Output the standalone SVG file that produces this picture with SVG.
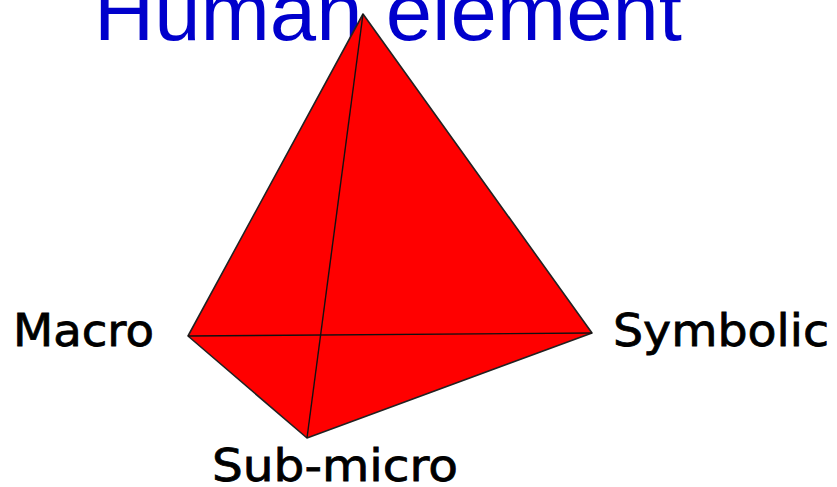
<svg xmlns="http://www.w3.org/2000/svg" width="837" height="487" viewBox="0 0 837 487">
  <style>
    .title { font-family: "Liberation Sans", Arial, sans-serif; font-size: 82px; fill: #0000CC; }
    .label { font-family: "DejaVu Sans", Verdana, sans-serif; font-size: 45px; fill: #000000; stroke: #000000; stroke-width: 0.8; }
    .face { fill: #FF0000; stroke: #222222; stroke-width: 1.6; stroke-linejoin: round; }
    .edge { stroke: #111111; stroke-width: 1.4; fill: none; }
  </style>
  <rect width="837" height="487" fill="#FFFFFF"/>
  <g id="title">
    <text class="title" x="94" y="40" textLength="588" lengthAdjust="spacingAndGlyphs">Human element</text>
  </g>
  <g id="tetrahedron">
    <polygon class="face" points="363,14 188,336 307,438 592,333"/>
    <g id="edges">
      <line class="edge" x1="363" y1="14" x2="307" y2="438"/>
      <line class="edge" x1="188" y1="336" x2="592" y2="333"/>
    </g>
  </g>
  <g id="macro">
    <text class="label" x="13" y="346" textLength="141" lengthAdjust="spacingAndGlyphs">Macro</text>
  </g>
  <g id="symbolic">
    <text class="label" x="613" y="346" textLength="216" lengthAdjust="spacingAndGlyphs">Symbolic</text>
  </g>
  <g id="submicro">
    <text class="label" x="212" y="481" textLength="246" lengthAdjust="spacingAndGlyphs">Sub-micro</text>
  </g>
</svg>
